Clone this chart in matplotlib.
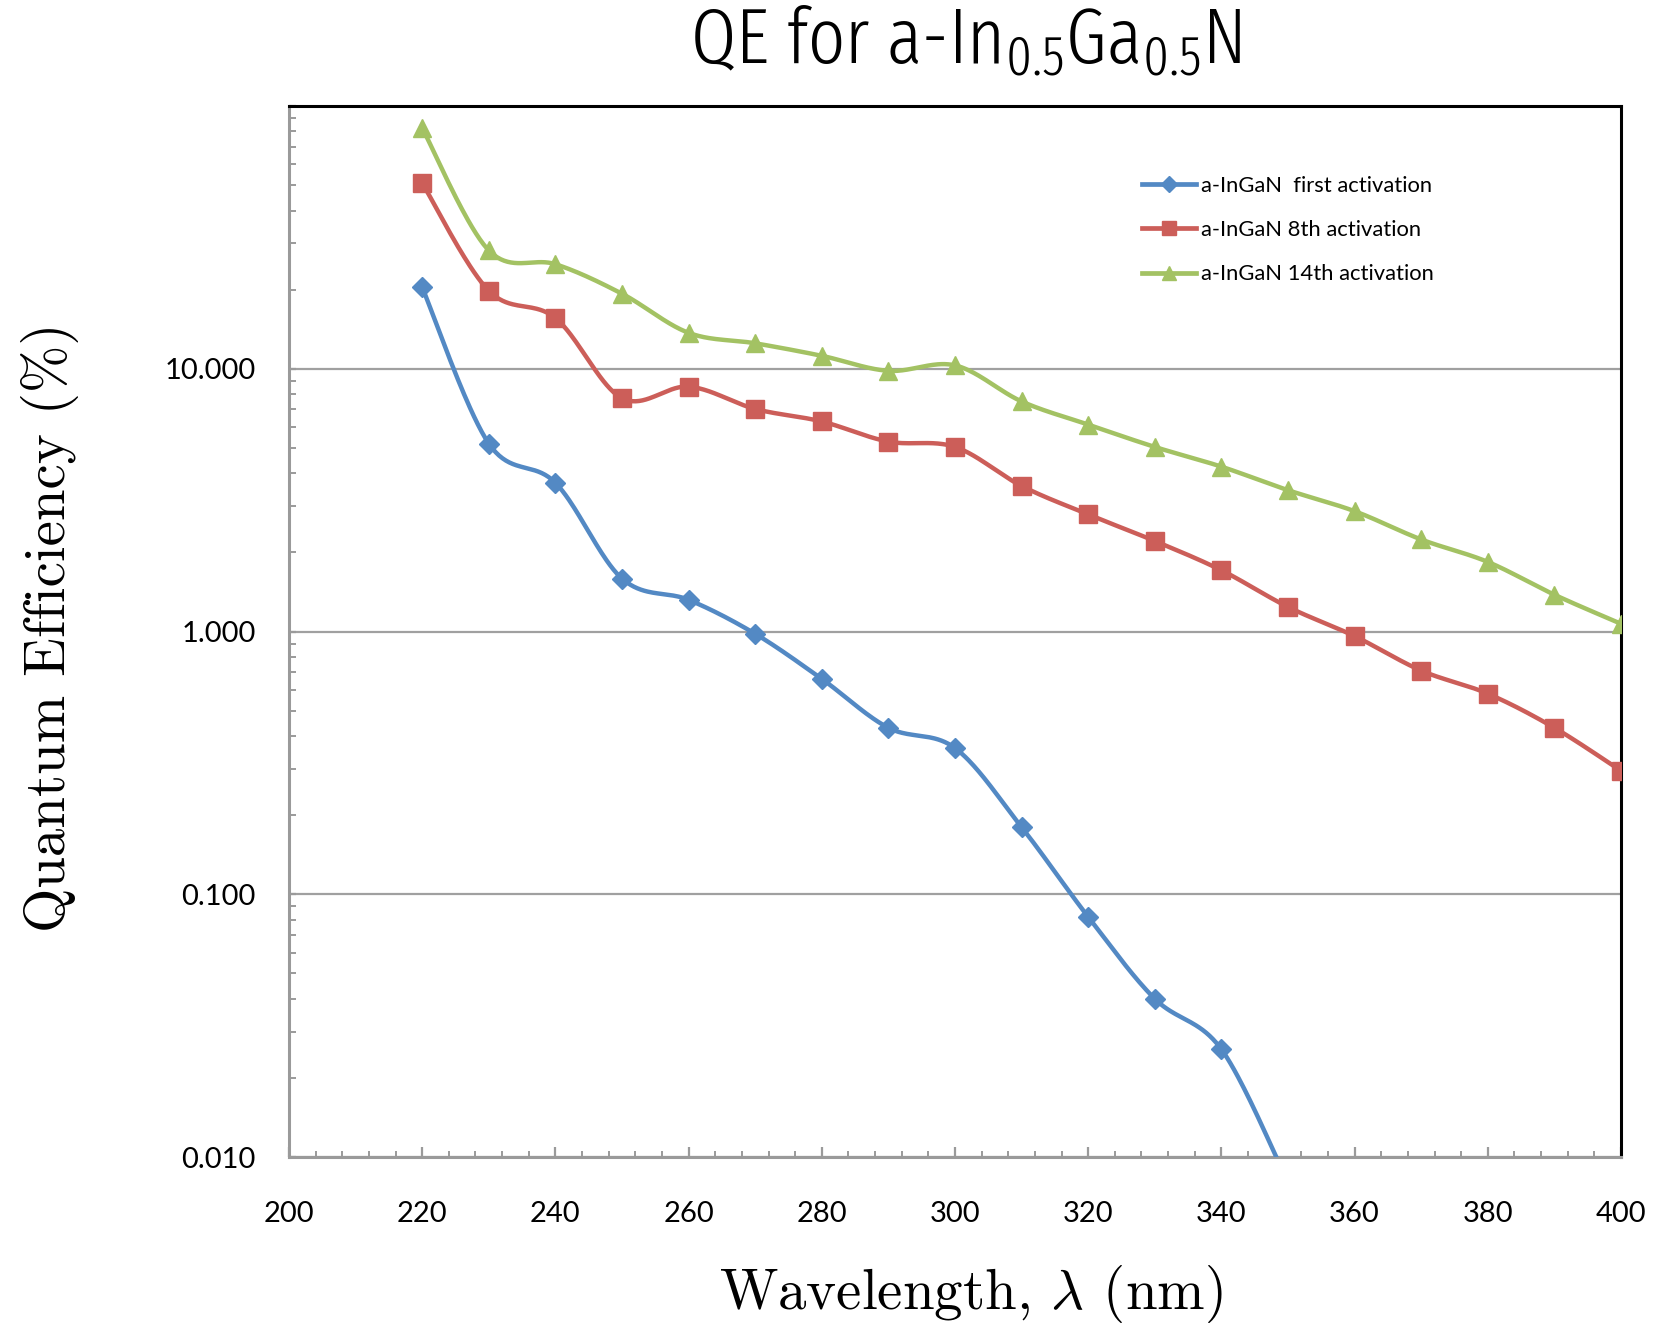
import numpy as np
import matplotlib
matplotlib.use("Agg")
import matplotlib.pyplot as plt
from matplotlib import font_manager as fm
from matplotlib.ticker import MultipleLocator, LogLocator, FixedLocator, FuncFormatter
from matplotlib.lines import Line2D

# ---------------- data ----------------
wavelength = [220, 230, 240, 250, 260, 270, 280, 290, 300, 310, 320, 330, 340,
              350, 360, 370, 380, 390, 400]
qe_first = [20.4, 5.19, 3.68, 1.59, 1.32, 0.98, 0.66, 0.43, 0.36, 0.18, 0.082,
            0.040, 0.0257, 0.008]
qe_8th = [50.9, 19.8, 15.6, 7.72, 8.55, 7.03, 6.30, 5.28, 5.04, 3.58, 2.79, 2.21,
          1.71, 1.24, 0.96, 0.71, 0.58, 0.43, 0.295]
qe_14th = [82.4, 28.2, 25.0, 19.3, 13.7, 12.5, 11.2, 9.82, 10.3, 7.51, 6.13, 5.04,
           4.24, 3.45, 2.87, 2.24, 1.84, 1.38, 1.07]
labels = ["a-InGaN  first activation", "a-InGaN 8th activation", "a-InGaN 14th activation"]
ytick_vals = [0.01, 0.1, 1, 10, 100]
title_text = "QE for a-In$_{0.5}$Ga$_{0.5}$N"

colors = ["#5389C4", "#CC5E59", "#A3C263"]
markers = ["D", "s", "^"]
msizes = [10, 12.5, 13]

W, H, DPI = 1653, 1325, 100

# ---- pick a light condensed font for the title ----
candidates = ["Fira Sans Extra Condensed", "Fira Sans Condensed", "Encode Sans Condensed",
              "Roboto Condensed", "Asap Condensed", "PT Sans Narrow", "Archivo Narrow",
              "Liberation Sans Narrow", "Pragati Narrow", "IBM Plex Sans Condensed",
              "Open Sans Condensed"]
avail = {}
for f in fm.fontManager.ttflist:
    w = f.weight if isinstance(f.weight, int) else 400
    if f.style == "normal":
        avail.setdefault(f.name, set()).add(w)
title_family, title_weight = "DejaVu Sans", 400
for c in candidates:
    if c in avail:
        ok = sorted(w for w in avail[c] if 250 <= w <= 400)
        if ok:
            title_family = c
            title_weight = 300 if 300 in ok else ok[-1]
            break
plt.rcParams["mathtext.fontset"] = "custom"
plt.rcParams["mathtext.rm"] = f"{title_family}:weight={title_weight}"
plt.rcParams["mathtext.it"] = f"{title_family}:weight={title_weight}"


def smooth(xs, ys, n=40):
    P = np.column_stack([np.asarray(xs, float), np.log10(np.asarray(ys, float))])
    out = []
    for i in range(len(P) - 1):
        p0 = P[i - 1] if i > 0 else P[i]
        p1, p2 = P[i], P[i + 1]
        p3 = P[i + 2] if i + 2 < len(P) else P[i + 1]
        c1 = p1 + (p2 - p0) / 6.0
        c2 = p2 - (p3 - p1) / 6.0
        t = np.linspace(0, 1, n)[:, None]
        seg = (1 - t) ** 3 * p1 + 3 * (1 - t) ** 2 * t * c1 + 3 * (1 - t) * t ** 2 * c2 + t ** 3 * p2
        out.append(seg if i == 0 else seg[1:])
    arr = np.vstack(out)
    return arr[:, 0], 10 ** arr[:, 1]


fig = plt.figure(figsize=(W / DPI, H / DPI), dpi=DPI)
ax = fig.add_axes([289 / W, 1 - 1157 / H, (1621 - 289) / W, (1157 - 106) / H])

series = [qe_first, qe_8th, qe_14th]
for vals, c, m, ms in zip(series, colors, markers, msizes):
    xs = wavelength[:len(vals)]
    sx, sy = smooth(xs, vals)
    ax.plot(sx, sy, color=c, lw=3.2, solid_capstyle="butt", zorder=3)
    ax.plot(xs, vals, linestyle="none", marker=m, ms=ms, color=c, mec=c,
            zorder=4, clip_on=True)

ax.set_yscale("log")
ax.set_xlim(200, 400)
ax.set_ylim(0.01, 100)

ax.xaxis.set_major_locator(MultipleLocator(20))
ax.xaxis.set_minor_locator(MultipleLocator(4))
ax.yaxis.set_major_locator(FixedLocator(ytick_vals))
ax.yaxis.set_minor_locator(LogLocator(base=10, subs=np.arange(2, 10)))
ax.yaxis.set_major_formatter(FuncFormatter(lambda v, p: "" if v > 50 else f"{v:.3f}"))

gray = "#9A9A9A"
ax.grid(axis="y", which="major", color="#A0A0A0", lw=1.6, zorder=1)
ax.set_axisbelow(True)

ax.tick_params(axis="x", which="major", direction="in", length=7, width=1.6, color=gray,
               pad=32, labelsize=21)
ax.tick_params(axis="x", which="minor", direction="in", length=4.5, width=1.4, color=gray)
ax.tick_params(axis="y", which="major", direction="in", length=5, width=1.6, color=gray,
               pad=24, labelsize=21)
ax.tick_params(axis="y", which="minor", direction="in", length=5, width=1.4, color=gray)
for lab in ax.get_xticklabels() + ax.get_yticklabels():
    lab.set_fontfamily(["Lato", "DejaVu Sans"])

for s in ["left", "bottom"]:
    ax.spines[s].set_color(gray)
    ax.spines[s].set_linewidth(2.2)
for s in ["top", "right"]:
    ax.spines[s].set_color("black")
    ax.spines[s].set_linewidth(2.2)

# legend
handles = [Line2D([], [], color=c, lw=3.4, marker=m, ms=ms * 0.8, mec=c)
           for c, m, ms in zip(colors, markers, msizes)]
leg = fig.legend(handles, labels, loc="upper left", bbox_to_anchor=(1142 / W, 1 - 176 / H),
                 frameon=False, prop={"family": ["Lato", "DejaVu Sans"], "size": 15.8},
                 handlelength=2.45, handletextpad=0.25, labelspacing=1.1,
                 borderpad=0, borderaxespad=0)

# title, fitted to the reference width
title = fig.text(966 / W, 1 - 42 / H, title_text, ha="center", va="center", fontsize=46,
                 fontfamily=[title_family, "DejaVu Sans"], fontweight=title_weight,
                 math_fontfamily="custom")
fig.canvas.draw()
bb = title.get_window_extent()
title.set_fontsize(46 * 552.0 / bb.width)

# axis labels
fig.text(50 / W, 1 - 627 / H, "Quantum Efficiency (%)", rotation=90, ha="center", va="center",
         fontsize=41, fontfamily="cmr10")
fig.text(971 / W, 1 - 1294 / H, r"Wavelength, $\lambda$ (nm)", ha="center", va="center",
         fontsize=41, fontfamily="cmr10", math_fontfamily="cm")

fig.savefig("out.png", dpi=DPI)
